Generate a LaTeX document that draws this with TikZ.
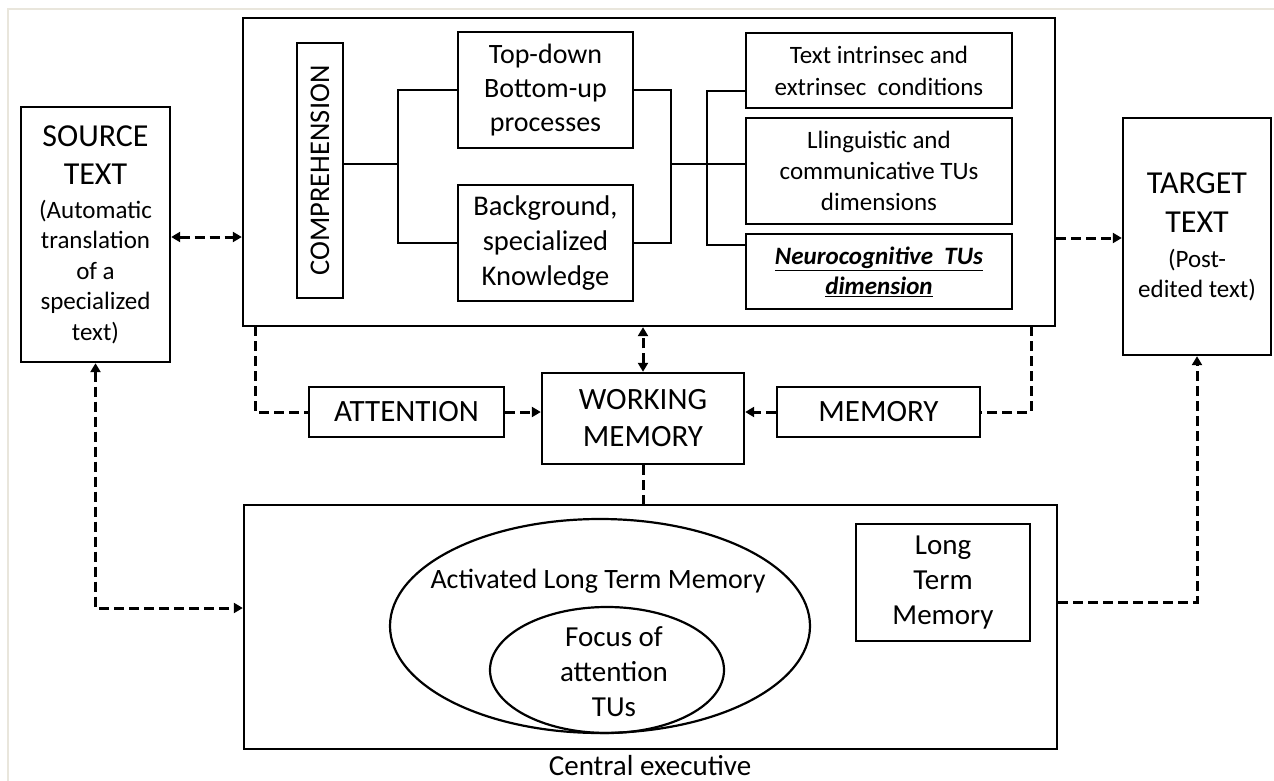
\documentclass[tikz,border=0pt]{standalone}
\usepackage{fontspec}
\usepackage{graphicx}
\setmainfont{Carlito}
\usetikzlibrary{arrows.meta,shapes.geometric}
\newcommand\fsz[2]{\fontsize{#1}{#2}\selectfont}
\definecolor{framegray}{HTML}{E9E6DC}
\begin{document}
\begin{tikzpicture}[x=1pt,y=-1pt,
  box/.style={draw, line width=2.4pt, inner sep=0pt, align=center},
  link/.style={line width=2.6pt},
  dline/.style={line width=3pt, dash pattern=on 10pt off 5pt},
  >={Triangle[length=9pt,width=10pt]}]
\useasboundingbox (0,0) rectangle (1274,781);
% faint page frame
\draw[framegray, line width=2pt] (7.5,781) -- (7.5,9) -- (1274,9);

% ---- comprehension block ----
\node[box, minimum width=812pt, minimum height=308pt] (top) at (649,172) {};
\node[box, minimum width=46pt, minimum height=255pt, font=\fsz{28.5}{34}] (comp) at (320,170.5) {\rotatebox{90}{COMPREHENSION}};
\node[box, minimum width=175pt, minimum height=116pt, font=\fsz{28}{34}] (td) at (545.5,90) {Top-down\\Bottom-up\\processes};
\node[box, minimum width=175pt, minimum height=116pt, font=\fsz{28.5}{35}] (bg) at (545.5,243) {Background,\\specialized\\Knowledge};
\node[box, minimum width=266pt, minimum height=75pt, font=\fsz{25}{32}] (tx) at (879,70.5) {Text intrinsec and\\extrinsec\ \ conditions};
\node[box, minimum width=266pt, minimum height=106pt, font=\fsz{25}{31}] (ll) at (879,171) {Llinguistic and\\communicative TUs\\dimensions};
\node[box, minimum width=266pt, minimum height=75pt, font=\fsz{25}{30}\bfseries\itshape] (neuro) at (879,271.5) {\underline{Neurocognitive\ \ TUs}\\\underline{dimension}};

\coordinate (jl) at (398,164);
\coordinate (jr) at (671,164);
\coordinate (jq1) at (707,91);
\coordinate (jq2) at (707,245);
\draw[link] (comp.east |- jl) -- (jl);
\draw[link] (td.west) -| (jl) |- (bg.west);
\draw[link] (td.east) -| (jr) |- (bg.east);
\draw[link] (jr) -- (ll.west |- jr);
\draw[link] (tx.west |- jq1) -- (jq1) -- (jq2) -- (neuro.west |- jq2);

% ---- source and target ----
\node[box, minimum width=149pt, minimum height=255pt, font=\fsz{25}{30.5}] (src) at (95.5,234.5)
  {{\fsz{32}{30.5}SOURCE}\\[7.5pt]{\fsz{32}{30.5}TEXT}\\[3.5pt](Automatic\\translation\\of a\\specialized\\text)};
\node[box, minimum width=148pt, minimum height=237pt, font=\fsz{25}{30}] (tgt) at (1197,236.5)
  {{\fsz{32}{30}TARGET}\\[9pt]{\fsz{32}{30}TEXT}\\[5pt](Post-\\edited text)};

% ---- working memory row ----
\node[box, minimum width=195pt, minimum height=50pt, font=\fsz{31}{37}] (att) at (406.5,412) {ATTENTION};
\node[box, minimum width=202pt, minimum height=91pt, font=\fsz{31}{37}] (wm) at (643,418.5) {WORKING\\MEMORY};
\node[box, minimum width=203pt, minimum height=50pt, font=\fsz{31}{37}] (mem) at (878.5,412) {MEMORY};

% ---- central executive ----
\node[box, minimum width=813pt, minimum height=244pt] (bot) at (650.5,627) {};
\node[draw, line width=2.2pt, ellipse, minimum width=420pt, minimum height=214pt, inner sep=0pt] (altm) at (600,626) {};
\node[draw, line width=2.2pt, ellipse, minimum width=234pt, minimum height=126pt, inner sep=0pt] (foc) at (607,670) {};
\node[font=\fsz{28}{34}] (altmtxt) at (598,581) {Activated Long Term Memory};
\node[align=center, font=\fsz{29}{35}] (foctxt) at (614,672) {Focus of\\attention\\TUs};
\node[box, minimum width=174pt, minimum height=117pt, font=\fsz{29}{35}] (ltm) at (943,582.5) {Long\\Term\\Memory};
\node[font=\fsz{29}{34}, inner sep=1pt] (cex) at (650,766) {Central executive};

% ---- dashed connections ----
\coordinate (cl) at (255,326);
\coordinate (cr) at (1031,326);
\coordinate (cb) at (98,608);
\coordinate (cc) at (1100,602);
\draw[dline,<->] (src.east |- 0,237) -- (top.west |- 0,237);
\draw[dline,->] (top.east |- 0,238) -- (tgt.west |- 0,238);
\draw[dline] (cl) |- (att.west);
\draw[dline] (cr) |- (mem.east);
\draw[dline,->] (att.east) -- (att.east -| wm.west);
\draw[dline,->] (mem.west) -- (mem.west -| wm.east);
\draw[dline,<->] (wm.north) -- (wm.north |- top.south);
\draw[dline] (wm.south) -- (wm.south |- bot.north);
\draw[dline,<->] (src.south) |- (bot.west |- cb);
\draw[dline,->] (bot.east |- cc) -| (tgt.south);
\end{tikzpicture}
\end{document}
